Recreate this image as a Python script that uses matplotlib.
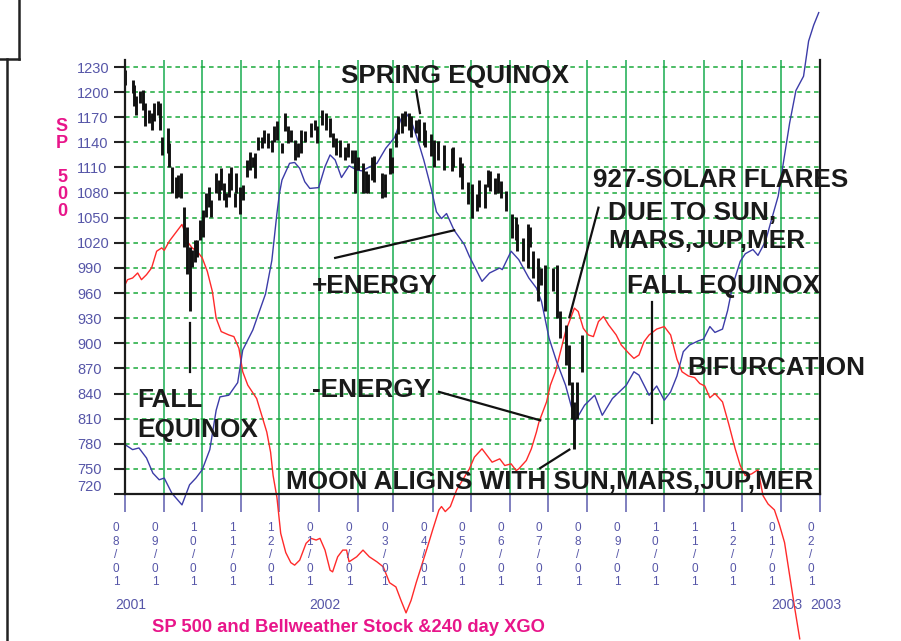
import pandas as pd
import matplotlib
matplotlib.use('Agg')
import matplotlib.pyplot as plt
from matplotlib.transforms import blended_transform_factory, offset_copy
from matplotlib.lines import Line2D

plt.rcParams['font.family'] = ['Liberation Sans', 'DejaVu Sans']

# ---- data ----
bar_dates = ['2001-08-01', '2001-08-07', '2001-08-08', '2001-08-10', '2001-08-13', '2001-08-15',
             '2001-08-17', '2001-08-20', '2001-08-22', '2001-08-24', '2001-08-27', '2001-08-29',
             '2001-08-30', '2001-09-04', '2001-09-05', '2001-09-07', '2001-09-10', '2001-09-12',
             '2001-09-14', '2001-09-17', '2001-09-19', '2001-09-21', '2001-09-23', '2001-09-25',
             '2001-09-27', '2001-09-29', '2001-10-02', '2001-10-04', '2001-10-06', '2001-10-08',
             '2001-10-12', '2001-10-14', '2001-10-16', '2001-10-18', '2001-10-20', '2001-10-22',
             '2001-10-24', '2001-10-27', '2001-10-28', '2001-10-31', '2001-11-02', '2001-11-05',
             '2001-11-08', '2001-11-10', '2001-11-12', '2001-11-14', '2001-11-17', '2001-11-19',
             '2001-11-22', '2001-11-25', '2001-11-27', '2001-11-29', '2001-12-03', '2001-12-05',
             '2001-12-08', '2001-12-10', '2001-12-13', '2001-12-16', '2001-12-18', '2001-12-21',
             '2001-12-26', '2001-12-29', '2001-12-31', '2002-01-04', '2002-01-07', '2002-01-10',
             '2002-01-12', '2002-01-15', '2002-01-18', '2002-01-22', '2002-01-24', '2002-01-27',
             '2002-01-30', '2002-02-01', '2002-02-05', '2002-02-07', '2002-02-09', '2002-02-12',
             '2002-02-14', '2002-02-20', '2002-02-22', '2002-02-26', '2002-02-28', '2002-03-03',
             '2002-03-05', '2002-03-08', '2002-03-10', '2002-03-13', '2002-03-15', '2002-03-19',
             '2002-03-21', '2002-03-25', '2002-03-26', '2002-03-31', '2002-04-02', '2002-04-05',
             '2002-04-10', '2002-04-16', '2002-04-17', '2002-04-23', '2002-04-24', '2002-04-29',
             '2002-05-02', '2002-05-06', '2002-05-08', '2002-05-12', '2002-05-15', '2002-05-16',
             '2002-05-20', '2002-05-23', '2002-05-25', '2002-05-29', '2002-06-03', '2002-06-06',
             '2002-06-07', '2002-06-11', '2002-06-15', '2002-06-17', '2002-06-19', '2002-06-23',
             '2002-06-26', '2002-06-29', '2002-07-05', '2002-07-08', '2002-07-11', '2002-07-15',
             '2002-07-18', '2002-07-20', '2002-07-22', '2002-07-24', '2002-07-28']
bar_high = [1227, 1215, 1209, 1195, 1201, 1203, 1187, 1179, 1175, 1187, 1189, 1187,
            1147, 1157, 1139, 1111, 1099, 1101, 1103, 1063, 1039, 1015, 1011, 1023,
            1023, 1047, 1059, 1079, 1087, 1071, 1103, 1095, 1109, 1091, 1079, 1103,
            1111, 1079, 1103, 1087, 1089, 1119, 1129, 1123, 1127, 1147, 1147, 1155,
            1151, 1143, 1159, 1165, 1139, 1175, 1159, 1155, 1143, 1139, 1155, 1153,
            1163, 1167, 1159, 1179, 1175, 1169, 1151, 1145, 1143, 1135, 1139, 1131,
            1131, 1123, 1115, 1106, 1102, 1123, 1124, 1103, 1102, 1133, 1123, 1151,
            1172, 1175, 1177, 1175, 1172, 1167, 1168, 1164, 1155, 1150, 1143, 1142,
            1137, 1133, 1135, 1123, 1115, 1093,
            1090, 1078, 1095, 1090, 1107, 1106, 1098, 1103, 1094, 1082, 1054, 1051,
            1042, 1026, 1042, 1039, 1010, 1002, 990, 994, 990, 994, 938, 922,
            898, 854, 830, 854, 910]
bar_low = [1209, 1199, 1183, 1173, 1187, 1179, 1159, 1163, 1155, 1165, 1173, 1155,
           1125, 1127, 1111, 1079, 1073, 1075, 1073, 1015, 983, 939, 991, 997,
           1003, 1023, 1027, 1051, 1063, 1051, 1079, 1071, 1083, 1071, 1063, 1075,
           1083, 1063, 1079, 1055, 1071, 1099, 1107, 1111, 1097, 1131, 1133, 1139,
           1133, 1129, 1141, 1143, 1127, 1153, 1139, 1141, 1119, 1123, 1127, 1141,
           1147, 1155, 1139, 1161, 1155, 1147, 1135, 1125, 1123, 1119, 1123, 1115,
           1079, 1107, 1079, 1079, 1079, 1095, 1093, 1073, 1075, 1102, 1103, 1135,
           1150, 1151, 1159, 1155, 1146, 1151, 1142, 1137, 1135, 1124, 1111, 1119,
           1107, 1106, 1111, 1099, 1084, 1066,
           1050, 1058, 1063, 1062, 1087, 1082, 1078, 1079, 1074, 1058, 1026, 1023,
           1010, 998, 990, 1015, 978, 950, 970, 938, 962, 930, 906, 874,
           850, 810, 774, 810, 866]

blue_dates = ['2001-08-01', '2001-08-07', '2001-08-12', '2001-08-18', '2001-08-23', '2001-08-28',
              '2001-09-01', '2001-09-07', '2001-09-15', '2001-09-21', '2001-09-26', '2001-10-01',
              '2001-10-07', '2001-10-12', '2001-10-15', '2001-10-22', '2001-10-29', '2001-11-02',
              '2001-11-10', '2001-11-13', '2001-11-20', '2001-11-25', '2001-11-29', '2001-12-01',
              '2001-12-03', '2001-12-09', '2001-12-13', '2001-12-17', '2001-12-21', '2001-12-25',
              '2002-01-01', '2002-01-06', '2002-01-10', '2002-01-14', '2002-01-19', '2002-01-25',
              '2002-01-31', '2002-02-04', '2002-02-16',
              '2002-02-23', '2002-03-02', '2002-03-07', '2002-03-11', '2002-03-15', '2002-03-20',
              '2002-03-25', '2002-03-31', '2002-04-04', '2002-04-08', '2002-04-12', '2002-04-18',
              '2002-04-26', '2002-04-30', '2002-05-10', '2002-05-16', '2002-05-24', '2002-05-26',
              '2002-06-02', '2002-06-08', '2002-06-16', '2002-06-22', '2002-06-26', '2002-07-02',
              '2002-07-08', '2002-07-15', '2002-07-20', '2002-07-23', '2002-07-30', '2002-08-07',
              '2002-08-13', '2002-08-21', '2002-09-01', '2002-09-07', '2002-09-11', '2002-09-19',
              '2002-09-25', '2002-10-01', '2002-10-06', '2002-10-11', '2002-10-16', '2002-10-21',
              '2002-10-28', '2002-11-01', '2002-11-06', '2002-11-10', '2002-11-16', '2002-11-20',
              '2002-11-24', '2002-11-30', '2002-12-04', '2002-12-10', '2002-12-14', '2002-12-20',
              '2002-12-24', '2002-12-30', '2003-01-03', '2003-01-08', '2003-01-13', '2003-01-19',
              '2003-01-23', '2003-01-27', '2003-01-31']
blue_vals = [779, 773, 775, 763, 745, 737, 739, 721, 707, 731, 739, 749,
             773, 820, 836, 838, 853, 892, 916, 929, 959, 999, 1055, 1079,
             1095, 1115, 1116, 1109, 1093, 1085, 1086, 1111, 1125, 1119, 1098, 1112,
             1107, 1106, 1115,
             1133, 1146, 1168, 1175, 1166, 1144, 1119, 1084, 1057, 1049, 1055, 1035,
             1018, 1004, 974, 984, 990, 988, 1010, 1000, 978, 966, 950, 906,
             878, 850, 822, 808, 826, 838, 814, 834, 850, 866, 862, 838,
             849, 832, 842, 861, 890, 898, 903, 905, 920, 913, 917, 939,
             969, 998, 1007, 1012, 1005, 1022, 1044, 1076, 1115, 1163, 1202, 1219,
             1261, 1280, 1295]

red_dates = ['2001-08-01', '2001-08-03', '2001-08-07', '2001-08-11', '2001-08-14', '2001-08-18',
             '2001-08-22', '2001-08-26', '2001-08-30', '2001-09-01', '2001-09-05', '2001-09-11',
             '2001-09-15', '2001-09-17', '2001-09-19', '2001-09-23', '2001-09-27', '2001-10-01',
             '2001-10-05', '2001-10-09', '2001-10-12', '2001-10-16', '2001-10-22', '2001-10-26',
             '2001-10-30', '2001-11-02', '2001-11-06', '2001-11-13', '2001-11-17', '2001-11-21',
             '2001-11-24', '2001-11-26', '2001-11-29', '2001-12-02', '2001-12-06', '2001-12-10',
             '2001-12-13', '2001-12-17', '2001-12-22', '2001-12-26', '2001-12-30', '2002-01-02',
             '2002-01-06', '2002-01-10', '2002-01-12', '2002-01-16', '2002-01-20', '2002-01-23',
             '2002-01-25', '2002-01-31', '2002-02-05', '2002-02-10', '2002-02-16', '2002-02-21',
             '2002-02-26', '2002-03-03', '2002-03-07', '2002-03-11', '2002-03-15', '2002-03-19',
             '2002-03-23', '2002-03-28', '2002-04-01', '2002-04-06', '2002-04-08', '2002-04-11',
             '2002-04-15', '2002-04-20', '2002-04-26', '2002-04-30', '2002-05-04', '2002-05-10',
             '2002-05-14', '2002-05-18', '2002-05-24', '2002-05-28', '2002-06-02', '2002-06-06',
             '2002-06-08', '2002-06-14', '2002-06-18', '2002-06-22', '2002-06-24', '2002-06-28',
             '2002-06-30', '2002-07-03', '2002-07-07', '2002-07-11', '2002-07-15', '2002-07-19',
             '2002-07-22', '2002-07-25', '2002-07-29', '2002-08-02', '2002-08-06', '2002-08-10',
             '2002-08-14', '2002-08-18', '2002-08-24', '2002-08-28', '2002-09-03', '2002-09-07',
             '2002-09-11', '2002-09-15', '2002-09-19', '2002-09-25', '2002-10-01', '2002-10-06',
             '2002-10-11', '2002-10-15', '2002-10-20', '2002-10-25', '2002-10-29', '2002-11-02',
             '2002-11-06', '2002-11-10', '2002-11-16', '2002-11-21', '2002-11-26', '2002-11-30',
             '2002-12-04', '2002-12-09', '2002-12-14', '2002-12-18', '2002-12-22', '2002-12-27',
             '2002-12-31', '2003-01-04', '2003-01-08', '2003-01-12', '2003-01-16']
red_vals = [970, 976, 978, 984, 976, 982, 990, 1010, 1014, 1011, 1022, 1034,
            1042, 1034, 1022, 1014, 1010, 1002, 986, 962, 930, 914, 910, 908,
            894, 866, 850, 834, 814, 794, 770, 742, 716, 673, 650, 638,
            635, 641, 661, 667, 665, 667, 653, 629, 627, 645, 653, 653,
            639, 645, 653, 645, 639, 633, 614, 609, 593, 578, 593, 614,
            633, 657, 677, 701, 705, 699, 705, 725, 740, 750, 764, 774,
            766, 758, 762, 754, 756, 748, 750, 760, 774, 794, 806, 822,
            830, 850, 866, 890, 914, 930, 942, 938, 918, 910, 908, 926,
            932, 922, 910, 898, 888, 882, 886, 902, 910, 917, 920, 910,
            881, 866, 861, 859, 852, 849, 835, 840, 830, 803, 774, 754,
            742, 744, 749, 718, 708, 701, 683, 662, 623, 584, 547]

ytick_vals = list(range(720, 1231, 30))
xtick_dates = ['2001-08-01', '2001-09-01', '2001-10-01', '2001-11-01', '2001-12-01', '2002-01-01',
               '2002-02-01', '2002-03-01', '2002-04-01', '2002-05-01', '2002-06-01', '2002-07-01',
               '2002-08-01', '2002-09-01', '2002-10-01', '2002-11-01', '2002-12-01', '2003-01-01',
               '2003-02-01']
xtick_labels = ['08/01', '09/01', '10/01', '11/01', '12/01', '01/01', '02/01', '03/01', '04/01',
                '05/01', '06/01', '07/01', '08/01', '09/01', '10/01', '11/01', '12/01', '01/01',
                '02/01']
year_dates = ['2001-08-01', '2002-01-01', '2003-01-01', '2003-02-01']
year_labels = ['2001', '2002', '2003', '2003']

# annotation pointers (date, value) -> (date, value)
pointers = [
    (('2002-03-19', 1202), ('2002-03-22', 1175)),
    (('2001-09-21', 924), ('2001-09-21', 866)),
    (('2002-01-14', 1002), ('2002-04-18', 1035)),
    (('2002-04-06', 842), ('2002-06-25', 808)),
    (('2002-06-25', 751), ('2002-07-18', 773)),
    (('2002-08-10', 1062), ('2002-07-18', 931)),
    (('2002-09-21', 949), ('2002-09-21', 805)),
]
# text labels: (text, left px, baseline px)
notes = [
    ('SPRING EQUINOX', 341, 83),
    ('927-SOLAR FLARES', 593, 187),
    ('DUE TO SUN,', 608, 220),
    ('MARS,JUP,MER', 608, 248),
    ('+ENERGY', 312, 293),
    ('FALL EQUINOX', 627, 293),
    ('BIFURCATION', 687, 375),
    ('-ENERGY', 312, 397),
    ('FALL', 137, 407),
    ('EQUINOX', 137, 437),
    ('MOON ALIGNS WITH SUN,MARS,JUP,MER', 286, 489),
]

W, H = 901, 641
tick_blue = '#5656a8'
magenta = '#e8158a'

fig = plt.figure(figsize=(W / 100, H / 100), dpi=100)
ax = fig.add_axes([125 / W, 147 / H, 695 / W, 434 / H])
ax.set_xlim(pd.Timestamp('2001-08-01'), pd.Timestamp('2003-02-01'))
ax.set_ylim(720, 1238.4)

ax.plot(pd.to_datetime(red_dates), red_vals, color='#ff2a2a', lw=1.0, clip_on=False, zorder=3)
ax.plot(pd.to_datetime(blue_dates), blue_vals, color='#3c3ca8', lw=1.0, clip_on=False, zorder=3)
ax.vlines(pd.to_datetime(bar_dates), bar_low, bar_high, color='#111111', lw=2.1, zorder=4)

for (d0, v0), (d1, v1) in pointers:
    ax.plot(pd.to_datetime([d0, d1]), [v0, v1], color='#111111', lw=1.6, clip_on=False, zorder=5)

# axes, grid, ticks
ax.set_axisbelow(True)
ax.grid(axis='x', color='#3cb96a', lw=1.3, ls='-')
ax.grid(axis='y', color='#1aaa3a', lw=1.1, ls=(0, (3, 2.5)))
ax.spines['top'].set_visible(False)
for s in ['left', 'right', 'bottom']:
    ax.spines[s].set_linewidth(1.6)
    ax.spines[s].set_color('#1a1a1a')
    ax.spines[s].set_zorder(6)

ax.set_yticks(ytick_vals)
ax.set_yticklabels([str(v) for v in ytick_vals])
ax.tick_params(axis='y', length=8, width=1.5, color='#222222', pad=26.3,
               labelsize=10.5, labelcolor=tick_blue)
for lbl in ax.get_yticklabels():
    lbl.set_ha('left')
ax.get_yticklabels()[0].set_va('bottom')

ax.set_xticks(pd.to_datetime(xtick_dates))
ax.tick_params(axis='x', length=13, width=1.2, color='#6a6ab4', labelbottom=False)

base = blended_transform_factory(ax.transData, ax.transAxes)
lab_tr = offset_copy(base, fig=fig, x=-9, y=-28, units='dots')
for d, lab in zip(pd.to_datetime(xtick_dates), xtick_labels):
    ax.text(d, 0, '\n'.join(lab), transform=lab_tr, ha='center', va='top',
            fontsize=8.5, color=tick_blue, linespacing=1.18, clip_on=False)
yr_tr = offset_copy(base, fig=fig, x=6, y=-115, units='dots')
for d, lab in zip(pd.to_datetime(year_dates), year_labels):
    ax.text(d, 0, lab, transform=yr_tr, ha='center', va='baseline',
            fontsize=10, color=tick_blue, clip_on=False)

# annotations
for txt, x, y in notes:
    fig.text(x / W, 1 - y / H, txt, fontsize=18.8, fontweight='bold', color='#1a1a1a',
             ha='left', va='baseline')

fig.text(62 / W, 1 - 118 / H, 'S\nP\n\n5\n0\n0', fontsize=13, fontweight='bold', color=magenta,
         ha='center', va='top', linespacing=1.0)
fig.text(152 / W, 1 - 632 / H, 'SP 500 and Bellweather Stock &240 day XGO', fontsize=13.2,
         fontweight='bold', color=magenta, ha='left', va='baseline')

# frame bits on the far left
for xs, ys in [([7, 7], [59, 641]), ([19, 19], [0, 59]), ([0, 19], [59, 59])]:
    fig.add_artist(Line2D([x / W for x in xs], [1 - y / H for y in ys],
                          transform=fig.transFigure, color='#222222', lw=1.8))

fig.savefig('out.png', dpi=100)
